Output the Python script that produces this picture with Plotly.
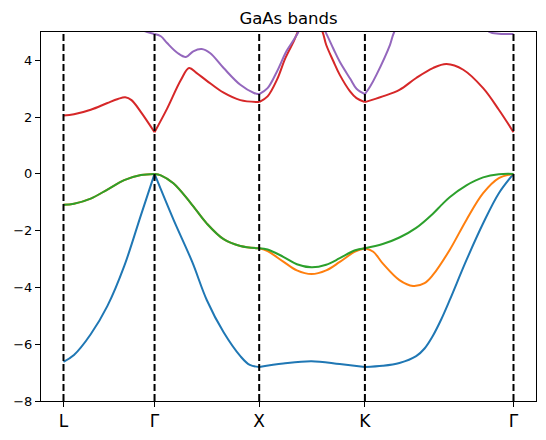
import plotly.graph_objects as go

# High-symmetry points along the k-path
kpoint_labels = ["L", "Γ", "X", "K", "Γ"]
kpoint_pos = [0.0, 0.87, 1.87, 2.88, 4.30]

# Band data: each band given per path segment (L-Γ, Γ-X, X-K, K-Γ)
blue_seg_x = [
    [0.0, 0.10, 0.26, 0.42, 0.58, 0.74, 0.87],
    [0.87, 1.05, 1.23, 1.37, 1.53, 1.69, 1.78, 1.87],
    [1.87, 2.10, 2.37, 2.64, 2.88],
    [2.88, 3.05, 3.21, 3.37, 3.45, 3.53, 3.61, 3.69, 3.85, 4.01, 4.16, 4.30],
]
blue_seg_y = [
    [-6.62, -6.38, -5.65, -4.65, -3.25, -1.45, 0.0],
    [0.0, -1.6, -3.1, -4.45, -5.58, -6.42, -6.73, -6.8],
    [-6.8, -6.68, -6.6, -6.7, -6.8],
    [-6.8, -6.76, -6.66, -6.42, -6.15, -5.7, -5.12, -4.45, -3.04, -1.74, -0.68, 0.0],
]

orange_seg_x = [
    [0.0, 0.10, 0.26, 0.42, 0.58, 0.74, 0.87],
    [0.87, 0.93, 1.05, 1.21, 1.37, 1.53, 1.69, 1.87],
    [1.87, 1.95, 2.10, 2.23, 2.37, 2.51, 2.64, 2.78, 2.88],
    [2.88, 2.96, 3.05, 3.21, 3.34, 3.45, 3.53, 3.69, 3.85, 4.01, 4.16, 4.30],
]
orange_seg_y = [
    [-1.09, -1.05, -0.87, -0.55, -0.22, -0.04, 0.0],
    [0.0, -0.05, -0.33, -1.0, -1.75, -2.3, -2.54, -2.62],
    [-2.62, -2.72, -3.09, -3.4, -3.53, -3.4, -3.1, -2.75, -2.62],
    [-2.62, -2.74, -3.15, -3.74, -3.95, -3.85, -3.56, -2.68, -1.62, -0.68, -0.15, 0.0],
]

green_seg_x = [
    [0.0, 0.10, 0.26, 0.42, 0.58, 0.74, 0.87],
    [0.87, 0.93, 1.05, 1.21, 1.37, 1.53, 1.69, 1.87],
    [1.87, 1.95, 2.10, 2.23, 2.37, 2.51, 2.64, 2.78, 2.88],
    [2.88, 3.05, 3.21, 3.37, 3.53, 3.61, 3.69, 3.85, 4.01, 4.16, 4.30],
]
green_seg_y = [
    [-1.09, -1.05, -0.87, -0.55, -0.22, -0.04, 0.0],
    [0.0, -0.05, -0.33, -1.0, -1.75, -2.3, -2.54, -2.62],
    [-2.62, -2.66, -2.92, -3.18, -3.29, -3.2, -2.97, -2.7, -2.62],
    [-2.62, -2.47, -2.24, -1.9, -1.4, -1.1, -0.82, -0.4, -0.12, -0.01, 0.0],
]

red_seg_x = [
    [0.0, 0.10, 0.26, 0.42, 0.52, 0.59, 0.65, 0.74, 0.87],
    [0.87, 0.99, 1.12, 1.20, 1.27, 1.37, 1.53, 1.69, 1.87],
    [1.87, 1.95, 2.04, 2.12, 2.20, 2.26, 2.37, 2.47, 2.51, 2.58, 2.64, 2.74, 2.80, 2.88],
    [2.88, 3.05, 3.21, 3.37, 3.53, 3.66, 3.82, 4.01, 4.16, 4.30],
]
red_seg_y = [
    [2.06, 2.1, 2.26, 2.5, 2.64, 2.7, 2.6, 2.18, 1.47],
    [1.47, 2.3, 3.3, 3.73, 3.56, 3.28, 2.86, 2.6, 2.53],
    [2.53, 2.73, 3.32, 4.08, 4.67, 5.15, 5.6, 5.05, 4.55, 3.96, 3.49, 2.9, 2.67, 2.53],
    [2.53, 2.73, 2.96, 3.38, 3.73, 3.87, 3.67, 3.02, 2.26, 1.47],
]

purple_seg_x = [
    [0.0, 0.40, 0.80, 0.87],
    [0.87, 0.93, 0.99, 1.09, 1.17, 1.24, 1.32, 1.40, 1.53, 1.69, 1.82, 1.87],
    [1.87, 1.95, 2.04, 2.13, 2.23, 2.37, 2.51, 2.58, 2.64, 2.74, 2.80, 2.88],
    [2.88, 2.93, 2.99, 3.12, 3.16, 3.40, 3.70, 3.95, 4.07, 4.16, 4.23, 4.30],
]
purple_seg_y = [
    [5.8, 5.5, 5.0, 4.93],
    [4.93, 4.85, 4.61, 4.26, 4.12, 4.32, 4.4, 4.26, 3.73, 3.14, 2.85, 2.81],
    [2.81, 3.02, 3.61, 4.32, 4.9, 5.9, 4.95, 4.4, 3.95, 3.35, 3.0, 2.81],
    [2.81, 3.08, 3.49, 4.55, 5.0, 6.5, 6.5, 5.6, 5.0, 4.94, 4.93, 4.93],
]

band_colors = ["#1f77b4", "#ff7f0e", "#2ca02c", "#d62728", "#9467bd"]
bands = [
    (blue_seg_x, blue_seg_y),
    (orange_seg_x, orange_seg_y),
    (green_seg_x, green_seg_y),
    (red_seg_x, red_seg_y),
    (purple_seg_x, purple_seg_y),
]


def join_segments(segs):
    out = []
    for i, s in enumerate(segs):
        if i > 0:
            out.append(None)
        out.extend(s)
    return out


fig = go.Figure()
for (sx, sy), col in zip(bands, band_colors):
    fig.add_trace(go.Scatter(
        x=join_segments(sx), y=join_segments(sy), mode="lines",
        line=dict(color=col, width=2, shape="spline", smoothing=1.0),
        connectgaps=False, showlegend=False, hoverinfo="skip",
    ))

for kp in kpoint_pos:
    fig.add_shape(type="line", xref="x", yref="paper", x0=kp, x1=kp, y0=0, y1=1,
                  line=dict(color="black", width=2, dash="7px,3px"), layer="above")

span = kpoint_pos[-1] - kpoint_pos[0]
fig.update_layout(
    width=546, height=440,
    margin=dict(l=41, r=10, t=32, b=39),
    paper_bgcolor="white", plot_bgcolor="white",
    font=dict(family="DejaVu Sans", color="black"),
    title=dict(text="GaAs bands", x=0.5, xref="paper", xanchor="center",
               y=1 - 18 / 440, yref="container", yanchor="middle",
               font=dict(size=16.5, family="DejaVu Sans", color="black")),
    xaxis=dict(range=[kpoint_pos[0] - 0.05 * span, kpoint_pos[-1] + 0.05 * span],
               tickmode="array", tickvals=kpoint_pos, ticktext=kpoint_labels,
               ticks="outside", ticklen=5, tickwidth=1, tickcolor="black",
               tickfont=dict(size=17, family="DejaVu Sans", color="black"),
               showgrid=False, zeroline=False, showline=True, linecolor="black",
               linewidth=1, mirror=True),
    yaxis=dict(range=[-8, 5], tickmode="array", tickvals=[-8, -6, -4, -2, 0, 2, 4],
               ticks="outside", ticklen=5, tickwidth=1, tickcolor="black",
               tickfont=dict(size=13, family="DejaVu Sans", color="black"),
               showgrid=False, zeroline=False, showline=True, linecolor="black",
               linewidth=1, mirror=True),
)

fig.write_html("out.html")
